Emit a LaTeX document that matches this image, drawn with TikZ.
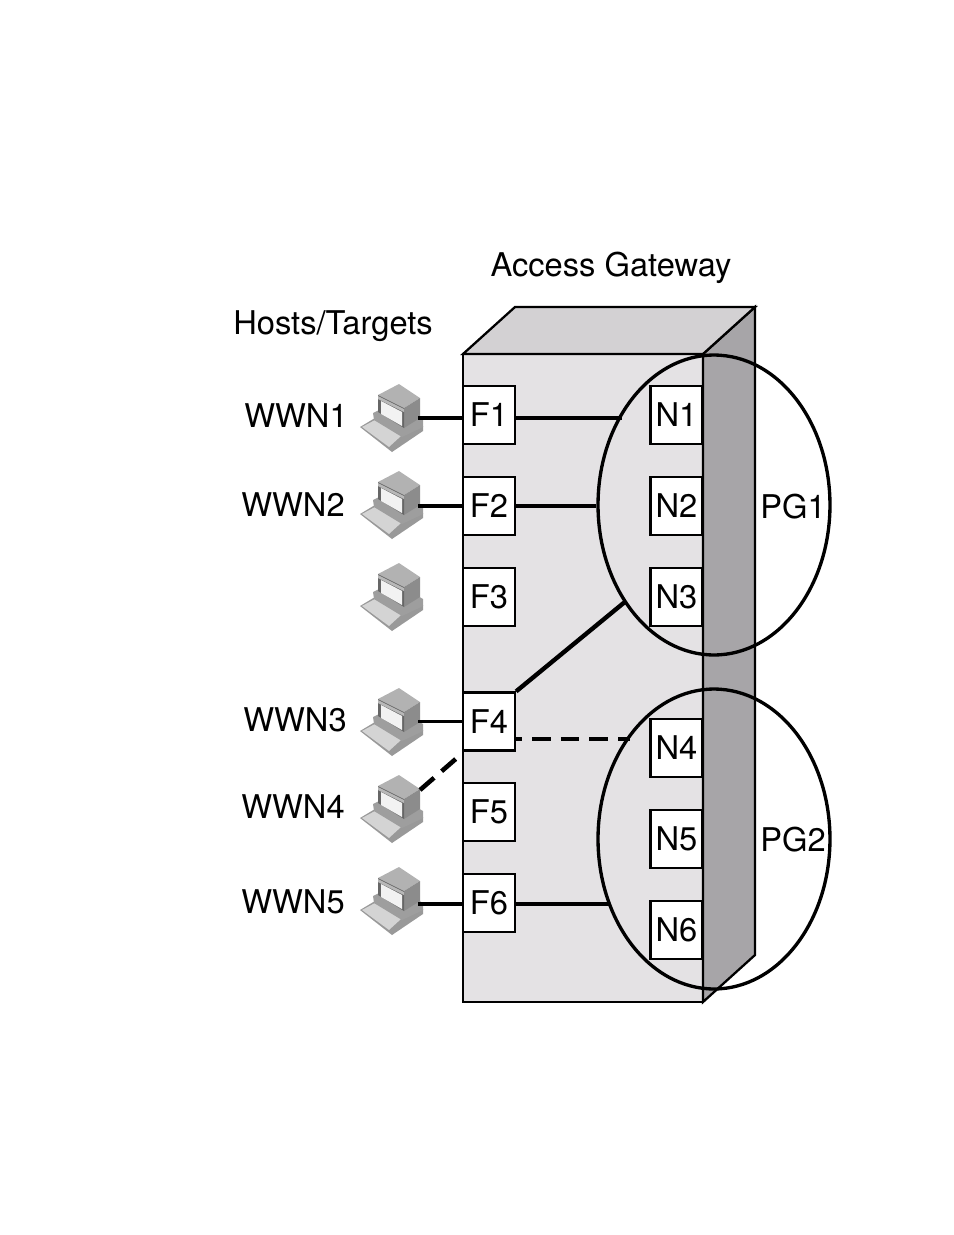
\documentclass[tikz,border=0pt]{standalone}
\usepackage{fontspec}
\setmainfont{TeX Gyre Heros}
\usetikzlibrary{shapes.geometric}
\definecolor{frontgray}{HTML}{E4E2E4}
\definecolor{topgray}{HTML}{D3D1D3}
\definecolor{sidegray}{HTML}{A7A5A8}
\tikzset{
  port/.style={draw,line width=1.3pt,fill=white,minimum width=1.04cm,minimum height=1.16cm,inner sep=0pt,font=\fontsize{18.6}{20}\selectfont},
  label/.style={inner sep=0pt,font=\fontsize{18.6}{20}\selectfont},
  group/.style={draw,ellipse,line width=1.9pt,minimum width=4.64cm,minimum height=6cm,inner sep=0pt},
  link/.style={line width=2.5pt},
  dashlink/.style={line width=2.6pt,dash pattern=on 10.6pt off 5.7pt},
  hostpc/.pic={
    \fill[color=black!40] (-58,9) -- (-43,0) -- (-13,17) -- (5,8) -- (5,13) -- (-26,34) -- cycle; % keyboard
    \fill[color=black!17] (-56,9) -- (-43,2) -- (-17,18) -- (-29,29) -- cycle;
    \fill[color=black!38] (-45,-5) -- (-39,-8) -- (-14,8) -- (0,-1) -- (5,2) -- (5,9) -- (-16,19) -- (-44,2) -- cycle; % base
    \fill[color=black!30] (-40,-23) -- (-19,-34) -- (2,-20) -- (-14,-10) -- cycle; % monitor
    \fill[color=black!45] (-14,-10) -- (2,-20) -- (2,0) -- (-14,10) -- cycle;
    \fill[color=black!60] (-40,-23) -- (-14,-10) -- (-14,10) -- (-40,-6) -- cycle;
    \fill[color=black!28] (-40,-22) -- (-14,-9) -- (-14,-6) -- (-40,-19) -- cycle;
    \fill[color=white!95!black] (-37,-17) -- (-16,-6) -- (-16,8) -- (-37,-4) -- cycle; % screen
  }
}
\begin{document}
\begin{tikzpicture}[x=0.02cm,y=-0.02cm]
\useasboundingbox (0,0) rectangle (954,1235);

\draw[line width=1.3pt,fill=frontgray] (463,354) -- (703,354) -- (703,1002) -- (463,1002) -- cycle; % front
\draw[line width=1.3pt,fill=sidegray] (703,354) -- (755,307) -- (755,955) -- (703,1002) -- cycle; % side
\draw[line width=1.3pt,fill=topgray] (463,354) -- (515,307) -- (755,307) -- (703,354) -- cycle; % top

\pic at (418,418) {hostpc};
\pic at (418,505) {hostpc};
\pic at (418,597) {hostpc};
\pic at (418,722) {hostpc};
\pic at (418,809) {hostpc};
\pic at (418,901) {hostpc};

\coordinate (pc1) at (418,418);
\coordinate (pc2) at (418,506);
\coordinate (pc4) at (418,721);
\coordinate (pc5) at (420,790);
\coordinate (pc6) at (418,904);
\coordinate (end1) at (622,418);
\coordinate (end4) at (626,601);
\coordinate (end5) at (630,739);
\coordinate (end6) at (610,904);
\coordinate (corner5) at (458,757);

\draw[link] (pc1) -- (pc1 -| 463,0); % WWN1
\draw[link] (pc2) -- (pc2 -| 463,0); % WWN2
\draw[line width=1.7pt] (pc4) -- (pc4 -| 463,0); % WWN3
\draw[link] (pc6) -- (pc6 -| 463,0); % WWN5
\draw[dashlink] (pc5) -- (corner5); % WWN4

\node[port] (F1) at (489,415) {F1};
\node[port] (F2) at (489,506) {F2};
\node[port] (F3) at (489,597) {F3};
\node[port] (F4) at (489,721.5) {F4};
\node[port] (F5) at (489,812) {F5};
\node[port] (F6) at (489,903) {F6};

\node[port] (N1) at (676.5,415) {N1};
\node[port] (N2) at (676.5,506) {N2};
\node[port] (N3) at (676.5,597) {N3};
\node[port] (N4) at (676.5,748) {N4};
\node[port] (N5) at (676.5,839) {N5};
\node[port] (N6) at (676.5,930) {N6};

\node[group] (PG1) at (714,505) {};
\node[group] (PG2) at (714,839) {};

\draw[link] (F1.east |- end1) -- (end1);
\draw[link] (F2.east) -- (F2.east -| PG1.west);
\draw[link] (F4.north east) -- (end4);
\draw[dashlink,dash phase=7.2pt] (F4.east |- end5) -- (end5);
\draw[link] (F6.east |- end6) -- (end6);

\node[label] (gateway) at (611,268) {Access Gateway};
\node[label] (hosts) at (333,326) {Hosts/Targets};
\node[label] (WWN1) at (296,416) {WWN1};
\node[label] (WWN2) at (293,505) {WWN2};
\node[label] (WWN3) at (295,720) {WWN3};
\node[label] (WWN4) at (293,807) {WWN4};
\node[label] (WWN5) at (293,902) {WWN5};
\node[label] (PG1text) at (793,507) {PG1};
\node[label] (PG2text) at (793,840) {PG2};
\end{tikzpicture}
\end{document}
